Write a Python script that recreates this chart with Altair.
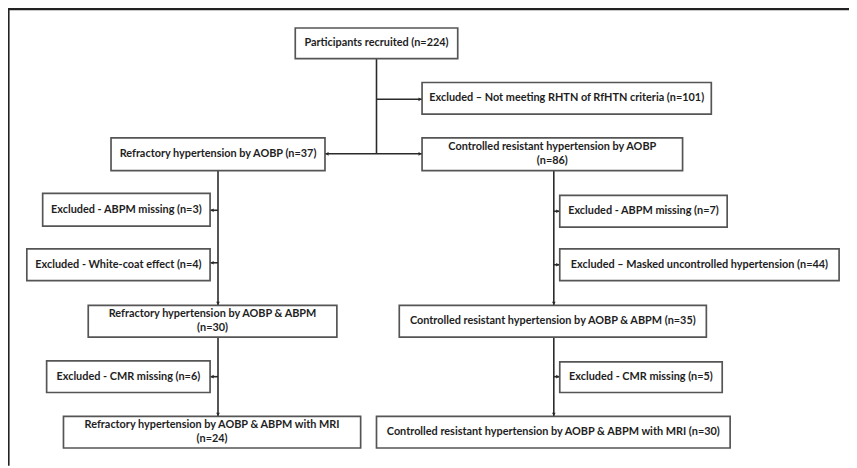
import altair as alt
import pandas as pd

# ---- content ----
labels = [
    "Participants recruited (n=224)",
    "Excluded \u2013 Not meeting RHTN of RfHTN criteria (n=101)",
    "Refractory hypertension by AOBP (n=37)",
    "Controlled resistant hypertension by AOBP\n(n=86)",
    "Excluded - ABPM missing (n=3)",
    "Excluded - White-coat effect (n=4)",
    "Refractory hypertension by AOBP & ABPM\n(n=30)",
    "Excluded - CMR missing (n=6)",
    "Refractory hypertension by AOBP & ABPM with MRI\n(n=24)",
    "Excluded - ABPM missing (n=7)",
    "Excluded \u2013 Masked uncontrolled hypertension (n=44)",
    "Controlled resistant hypertension by AOBP & ABPM (n=35)",
    "Excluded - CMR missing (n=5)",
    "Controlled resistant hypertension by AOBP & ABPM with MRI (n=30)",
]

# ---- layout (page pixel units) ----
box_x0 = [298, 426, 112, 426, 43, 27, 89, 47, 64, 565, 565, 403, 565, 380]
box_x1 = [462, 718, 328, 689, 212, 212, 340, 212, 364, 734, 847, 713, 729, 737]
box_y0 = [26, 81, 137, 137, 193, 249, 306, 362, 418, 195, 249, 306, 363, 418]
box_y1 = [57, 113, 170, 170, 226, 281, 338, 394, 450, 227, 281, 338, 394, 450]

seg_x1 = [380, 380, 328, 220, 220, 220, 220, 220, 559, 559, 559, 559, 559]
seg_y1 = [57, 98, 153, 170, 338, 210, 263, 378, 170, 338, 211, 265, 378]
seg_x2 = [380, 426, 426, 220, 220, 212, 212, 212, 559, 559, 565, 565, 565]
seg_y2 = [153, 98, 153, 306, 418, 210, 263, 378, 306, 418, 211, 265, 378]

arr_x = [424, 424, 330, 220, 220, 214, 214, 214, 559, 559, 563, 563, 563]
arr_y = [98, 153, 153, 304, 416, 210, 263, 378, 304, 416, 211, 265, 378]
arr_shape = ["triangle-right", "triangle-right", "triangle-left", "triangle-down",
             "triangle-down", "triangle-left", "triangle-left", "triangle-left",
             "triangle-down", "triangle-down", "triangle-right", "triangle-right",
             "triangle-right"]

# frame
frame_x = [8.5, 8.5, 857]
frame_y = [468, 7, 7]

LINE_H = 14
W, H = 849, 460
xs = alt.Scale(domain=[8, 8 + W], nice=False, zero=False)
ys = alt.Scale(domain=[8, 8 + H], nice=False, zero=False, reverse=True)

boxes = pd.DataFrame({
    "label": labels, "x0": box_x0, "x1": box_x1, "y0": box_y0, "y1": box_y1,
})
nlines = boxes.label.str.count("\n") + 1
boxes["cx"] = (boxes.x0 + boxes.x1) / 2
boxes["cy"] = (boxes.y0 + boxes.y1) / 2 - (nlines - 1) * LINE_H / 2

segs = pd.DataFrame({"x1": seg_x1, "y1": seg_y1, "x2": seg_x2, "y2": seg_y2})
arrows = pd.DataFrame({"x": arr_x, "y": arr_y, "shape": arr_shape})
frame = pd.DataFrame({"x": frame_x, "y": frame_y, "o": [0, 1, 2]})

noax = None

rects = alt.Chart(boxes).mark_rect(
    fill="white", stroke="#555555", strokeWidth=1.7
).encode(
    x=alt.X("x0:Q", scale=xs, axis=noax), x2="x1:Q",
    y=alt.Y("y0:Q", scale=ys, axis=noax), y2="y1:Q",
)

texts = alt.Chart(boxes).mark_text(
    font="Lato", fontWeight="bold", fontSize=11, color="#1e1e1e",
    lineBreak="\n", lineHeight=LINE_H, align="center", baseline="middle",
).encode(
    x=alt.X("cx:Q", scale=xs, axis=noax),
    y=alt.Y("cy:Q", scale=ys, axis=noax),
    text="label:N",
)

lines = alt.Chart(segs).mark_rule(color="#2a2a2a", strokeWidth=1.6).encode(
    x=alt.X("x1:Q", scale=xs, axis=noax), x2="x2:Q",
    y=alt.Y("y1:Q", scale=ys, axis=noax), y2="y2:Q",
)

heads = alt.Chart(arrows).mark_point(
    filled=True, color="#2a2a2a", size=14, opacity=1
).encode(
    x=alt.X("x:Q", scale=xs, axis=noax),
    y=alt.Y("y:Q", scale=ys, axis=noax),
    shape=alt.Shape("shape:N", scale=None, legend=None),
)

frm = alt.Chart(frame).mark_line(color="#222222", strokeWidth=2.2).encode(
    x=alt.X("x:Q", scale=xs, axis=noax),
    y=alt.Y("y:Q", scale=ys, axis=noax),
    order="o:Q",
)

chart = alt.layer(frm, lines, rects, texts, heads).properties(
    width=W, height=H, padding=0, autosize=alt.AutoSizeParams(type="none"),
    background="white",
).configure_view(stroke=None)

chart.save("out.html", embed_options={"renderer": "svg", "actions": False})
